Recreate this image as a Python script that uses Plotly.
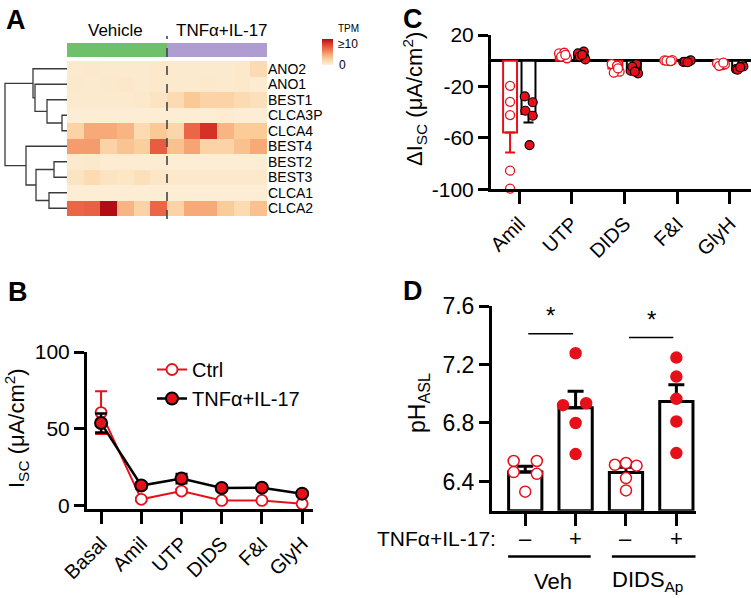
import numpy as np
import plotly.graph_objects as go

W, H = 751, 598
FONT = "Arial, 'Liberation Sans', sans-serif"
RED = "#E5101A"


def px(x):
    return x / W


def py(y):
    return 1 - y / H


# ---------------- data ----------------
# A : heatmap (TPM)
genes = ["ANO2", "ANO1", "BEST1", "CLCA3P", "CLCA4", "BEST4", "BEST2", "BEST3", "CLCA1", "CLCA2"]
tpm_vehicle = [
    [0.5, 0.6, 0.5, 0.5, 0.5, 0.6],
    [0.6, 0.5, 0.6, 0.7, 0.5, 0.6],
    [0.5, 0.5, 0.5, 0.5, 0.6, 1.0],
    [0.3, 0.3, 0.3, 0.3, 0.3, 0.3],
    [2.0, 4.0, 4.0, 3.5, 1.5, 2.6],
    [4.5, 4.5, 2.0, 2.8, 2.3, 6.8],
    [0.5, 0.6, 0.4, 0.4, 0.4, 0.4],
    [1.0, 1.5, 1.0, 0.8, 1.2, 0.8],
    [0.3, 0.3, 0.3, 0.3, 0.3, 0.3],
    [6.5, 6.7, 10.0, 3.5, 2.0, 6.5],
]
tpm_tnf = [
    [0.5, 0.5, 0.5, 0.5, 0.6, 1.5],
    [0.5, 0.5, 0.6, 0.5, 0.6, 0.4],
    [1.5, 2.6, 2.0, 2.0, 1.5, 1.2],
    [0.3, 0.3, 0.3, 0.4, 0.3, 0.3],
    [1.8, 6.5, 8.5, 3.5, 2.5, 2.5],
    [3.0, 4.2, 2.0, 2.0, 3.0, 4.0],
    [0.3, 0.3, 0.3, 0.3, 0.3, 0.3],
    [0.6, 0.6, 0.6, 0.6, 0.6, 0.6],
    [0.3, 0.3, 0.3, 0.3, 0.3, 0.3],
    [2.0, 4.0, 4.0, 2.5, 1.5, 3.0],
]
sample_groups = ["Vehicle"] * 6 + ["TNFα+IL-17"] * 6
# dendrogram merges: (child a, child b, height)
dendro_merges = [
    ("CLCA3P", "CLCA4", 5),
    ("BEST2", "BEST3", 13),
    ("CLCA1", "CLCA2", 18),
    ("BEST1", "m0", 20),
    ("m1", "m2", 31),
    ("ANO1", "m3", 32),
    ("ANO2", "m5", 34),
    ("BEST4", "m4", 41),
    ("m6", "m7", 62),
]

# B : Isc time course
b_steps = ["Basal", "Amil", "UTP", "DIDS", "F&I", "GlyH"]
b_ctrl = [60.5, 4.0, 9.4, 3.3, 3.3, 1.1]
b_ctrl_sem = [14.0, 1.0, 1.5, 0.8, 0.8, 0.5]
b_tnf = [53.7, 13.0, 17.5, 11.4, 11.6, 7.7]
b_tnf_sem = [6.2, 2.0, 3.0, 1.5, 1.5, 1.5]

# C : delta Isc per step
c_steps = ["Amil", "UTP", "DIDS", "F&I", "GlyH"]
c_yticks = [20, -20, -60, -100]
c_ctrl_pts = [
    [-19.5, -32.0, -42.3, -85.5, -99.5],
    [5.7, 6.2, 1.9, 3.2, 4.5],
    [-2.6, -3.9, -8.5, -9.3, -6.0],
    [0.3, -0.2, 0.5, 0.0, -0.3],
    [-2.0, -3.5, -2.8, -4.0, -1.5],
]
c_tnf_pts = [
    [-27.8, -32.3, -38.9, -42.8, -65.6],
    [7.0, 5.7, 1.0, 3.2, 4.5],
    [-2.6, -7.8, -9.8, -4.7, -8.5],
    [-0.5, -1.0, 0.2, -0.8, -1.2],
    [-3.0, -6.5, -4.5, -7.0, -5.0],
]

# D : ASL pH
d_groups = ["Veh -", "Veh +", "DIDS -", "DIDS +"]
d_treat = ["–", "+", "–", "+"]
d_pts = [
    [6.54, 6.54, 6.464, 6.452, 6.33],
    [7.277, 6.922, 6.935, 6.80, 6.587],
    [6.514, 6.526, 6.508, 6.423, 6.339],
    [7.247, 7.117, 6.965, 6.81, 6.594],
]

fig = go.Figure()

# ---------------- A ----------------
z = [v + t for v, t in zip(tpm_vehicle, tpm_tnf)]
oranges = [[0.0, "#FDF1DC"], [0.08, "#FCE6C6"], [0.25, "#FBCB98"], [0.42, "#F6A474"],
           [0.62, "#EE6C4C"], [0.82, "#DB3A2A"], [1.0, "#B20C14"]]
fig.add_trace(go.Heatmap(
    z=z, x=list(range(12)), y=list(range(len(genes))), zmin=0, zmax=10,
    colorscale=oranges, xaxis="x", yaxis="y", hoverinfo="skip",
    colorbar=dict(x=px(322), xanchor="left", y=py(52), yanchor="middle",
                  len=26, lenmode="pixels", thickness=11, thicknessmode="pixels",
                  xpad=0, ypad=0, outlinewidth=0, showticklabels=False, ticks=""),
))
grp_code = [0 if g == "Vehicle" else 1 for g in sample_groups]
fig.add_trace(go.Heatmap(
    z=[grp_code], x=list(range(12)), y=[0], zmin=0, zmax=1, showscale=False,
    colorscale=[[0, "#6FC06A"], [0.5, "#6FC06A"], [0.5, "#AF9CD0"], [1, "#AF9CD0"]],
    xaxis="x2", yaxis="y2", hoverinfo="skip",
))

# dendrogram lines
pos = {g: i for i, g in enumerate(genes)}
hgt = {g: 0 for g in genes}
dx, dy = [], []
for k, (a, b, h) in enumerate(dendro_merges):
    dx += [hgt[a], h, h, hgt[b], None]
    dy += [pos[a], pos[a], pos[b], pos[b], None]
    pos["m%d" % k] = (pos[a] + pos[b]) / 2
    hgt["m%d" % k] = h
fig.add_trace(go.Scatter(x=dx, y=dy, mode="lines", line=dict(color="#3a3a3a", width=1.3),
                         xaxis="x3", yaxis="y3", hoverinfo="skip", showlegend=False))

# ---------------- B ----------------
fig.add_trace(go.Scatter(
    x=b_steps, y=b_ctrl, mode="lines+markers", name="Ctrl",
    line=dict(color=RED, width=2),
    marker=dict(size=11, color="white", line=dict(color=RED, width=1.8)),
    error_y=dict(type="data", array=b_ctrl_sem, color=RED, thickness=2, width=6),
    xaxis="x4", yaxis="y4",
))
fig.add_trace(go.Scatter(
    x=b_steps, y=b_tnf, mode="lines+markers", name="TNFα+IL-17",
    line=dict(color="black", width=2.5),
    marker=dict(size=12, color=RED, line=dict(color="black", width=2)),
    error_y=dict(type="data", array=b_tnf_sem, color="black", thickness=2.5, width=6),
    xaxis="x4", yaxis="y4",
))

# ---------------- C ----------------
c_off = 0.175
jit_ctrl = [[0, 0, 0, 0, 0]] + [[-0.07, 0.03, 0.08, -0.03, 0.05]] * 4
jit_tnf = [[-0.07, 0.08, -0.06, 0.08, 0.02]] + [[0.05, -0.06, 0.08, -0.03, 0.02]] * 4
for pts, jit, off, edge, fill, lw in [(c_ctrl_pts, jit_ctrl, -c_off, RED, "white", 1.3),
                                      (c_tnf_pts, jit_tnf, c_off, "black", RED, 1.2)]:
    means = [np.mean(p) for p in pts]
    sems = [np.std(p, ddof=1) / np.sqrt(len(p)) for p in pts]
    xs = [i + off for i in range(len(c_steps))]
    fig.add_trace(go.Bar(
        x=xs, y=means, width=0.265, marker=dict(color="white", line=dict(color=edge, width=2)),
        error_y=dict(type="data", symmetric=False,
                     array=[s if m > 0 else 0 for m, s in zip(means, sems)],
                     arrayminus=[s if m < 0 else 0 for m, s in zip(means, sems)],
                     color=edge, thickness=2, width=5),
        xaxis="x5", yaxis="y5", showlegend=False, hoverinfo="skip",
    ))
    sx, sy = [], []
    for i, p in enumerate(pts):
        sx += [i + off + j for j in jit[i]]
        sy += p
    fig.add_trace(go.Scatter(
        x=sx, y=sy, mode="markers", showlegend=False, hoverinfo="skip",
        marker=dict(size=9, color=fill, line=dict(color=edge if fill == "white" else "black", width=lw)),
        xaxis="x5", yaxis="y5", cliponaxis=False,
    ))

# ---------------- D ----------------
d_means = [np.mean(p) for p in d_pts]
d_sems = [np.std(p, ddof=1) / np.sqrt(len(p)) for p in d_pts]
fig.add_trace(go.Bar(
    x=list(range(4)), y=[m - 6.2 for m in d_means], base=6.2, width=0.66,
    marker=dict(color="white", line=dict(color="black", width=3)),
    error_y=dict(type="data", symmetric=False, array=d_sems, arrayminus=[0] * 4,
                 color="black", thickness=3, width=8),
    xaxis="x6", yaxis="y6", showlegend=False, hoverinfo="skip",
))
d_jit = [[-0.23, 0.23, -0.23, 0.23, 0.0],
         [0.0, -0.25, 0.21, 0.0, 0.0],
         [-0.22, 0.0, 0.21, 0.0, 0.0],
         [0.0, 0.0, 0.0, 0.0, 0.0]]
for i, p in enumerate(d_pts):
    treated = d_treat[i] == "+"
    fig.add_trace(go.Scatter(
        x=[i + j for j in d_jit[i]], y=p, mode="markers", showlegend=False, hoverinfo="skip",
        marker=dict(size=11, color=RED if treated else "white", line=dict(color=RED, width=1.5)),
        xaxis="x6", yaxis="y6",
    ))

# ---------------- layout ----------------
ax = dict(showline=True, linecolor="black", linewidth=3, ticks="outside", tickwidth=3,
          tickcolor="black", ticklen=10, showgrid=False, zeroline=False, automargin=False,
          tickfont=dict(size=21, color="black"))
hid = dict(visible=False, automargin=False, showgrid=False, zeroline=False)

fig.update_layout(
    width=W, height=H, margin=dict(l=0, r=0, t=0, b=0, autoexpand=False),
    paper_bgcolor="white", plot_bgcolor="rgba(0,0,0,0)",
    font=dict(family=FONT, color="black"), barmode="overlay",
    xaxis=dict(hid, domain=[px(67), px(267)], range=[-0.5, 11.5], anchor="y"),
    yaxis=dict(domain=[py(216), py(61)], range=[9.5, -0.5], side="right", anchor="x",
               tickvals=list(range(len(genes))), ticktext=genes, ticks="", automargin=False,
               showgrid=False, zeroline=False, tickfont=dict(size=14)),
    xaxis2=dict(hid, domain=[px(67), px(267)], range=[-0.5, 11.5], anchor="y2"),
    yaxis2=dict(hid, domain=[py(57), py(43)], range=[-0.5, 0.5], anchor="x2"),
    xaxis3=dict(hid, domain=[px(4), px(67)], range=[63, 0], anchor="y3"),
    yaxis3=dict(hid, domain=[py(216), py(61)], range=[9.5, -0.5], anchor="x3"),
    xaxis4=dict(ax, domain=[px(87), px(313)], range=[-0.35, 5.27], anchor="y4",
                tickangle=-45, ticklen=12, tickfont=dict(size=20)),
    yaxis4=dict(ax, domain=[py(509), py(352)], range=[-2.3, 100], anchor="x4",
                tickvals=[0, 50, 100]),
    xaxis5=dict(ax, domain=[px(491), 1], range=[-0.537, 4.40], anchor="y5",
                tickvals=list(range(5)), ticktext=c_steps, tickangle=-45, ticklen=12,
                tickfont=dict(size=20)),
    yaxis5=dict(ax, domain=[py(189.3), py(35)], range=[-100, 20], anchor="x5",
                tickvals=c_yticks, ticktext=[str(t) for t in c_yticks],
                zeroline=True, zerolinecolor="black", zerolinewidth=3),
    xaxis6=dict(ax, domain=[px(492), px(696)], range=[-0.66, 3.39], anchor="y6",
                tickvals=list(range(4)), showticklabels=False, ticklen=12),
    yaxis6=dict(ax, domain=[py(510.7), py(306)], range=[6.2, 7.6], anchor="x6",
                tickvals=[6.4, 6.8, 7.2, 7.6], tickformat=".1f", tickfont=dict(size=23)),
    legend=dict(x=px(152), y=py(350), xanchor="left", yanchor="top",
                bgcolor="rgba(0,0,0,0)", font=dict(size=20), itemwidth=30,
                tracegroupgap=0),
    showlegend=True,
)

ann = []


def text(x, y, s, size, **kw):
    d = dict(x=px(x), y=py(y), xref="paper", yref="paper", text=s, showarrow=False,
             font=dict(size=size, color="black"), xanchor="center", yanchor="middle")
    d.update(kw)
    ann.append(d)


for lab, x, y in [("A", 4, 3), ("B", 6, 275), ("C", 401, 2), ("D", 401, 274)]:
    text(x, y, "<b>%s</b>" % lab, 27, xanchor="left", yanchor="top")

text(115, 31, "Vehicle", 17)
text(222, 31, "TNFα+IL-17", 17)
text(348, 29, "TPM", 10)
text(336, 44, "≥10", 12, xanchor="left")
text(337, 65, "0", 12, xanchor="left")

text(16, 428, "I<sub>SC</sub> (μA/cm<sup>2</sup>)", 22, textangle=-90)
text(414, 99, "ΔI<sub>SC</sub> (μA/cm<sup>2</sup>)", 22, textangle=-90)
text(418, 403, "pH<sub>ASL</sub>", 23, textangle=-90)

text(498, 538, "TNFα+IL-17:", 21, xanchor="right")
for i, s in enumerate(d_treat):
    ann.append(dict(x=i, y=py(538), xref="x6", yref="paper", text=s, showarrow=False,
                    xanchor="center", yanchor="middle", font=dict(size=22, color="black")))
text(553, 581, "Veh", 22)
text(647, 581, "DIDS<sub>Ap</sub>", 22)

# significance
for x0, x1, yl in [(0.06, 0.95, 7.41), (2.06, 2.94, 7.385)]:
    fig.add_shape(type="line", x0=x0, x1=x1, y0=yl, y1=yl, xref="x6", yref="y6",
                  line=dict(color="black", width=1.5))
    ann.append(dict(x=(x0 + x1) / 2, y=yl + 0.02, xref="x6", yref="y6", text="*",
                    showarrow=False, yanchor="bottom", font=dict(size=24, color="black")))

# group bars under D
for x0, x1 in [(-0.34, 1.30), (1.72, 3.38)]:
    fig.add_shape(type="line", x0=x0, x1=x1, y0=py(556.5), y1=py(556.5), xref="x6",
                  yref="paper", line=dict(color="black", width=2.5))

# dashed separator in heatmap
fig.add_shape(type="line", x0=5.5, x1=5.5, y0=py(219), y1=py(36), xref="x", yref="paper",
              line=dict(color="#444444", width=1.6, dash="dash"))

fig.update_layout(annotations=ann)
fig.write_html("out.html", config={"displayModeBar": False},
               post_script="document.body.style.margin='0px';")
